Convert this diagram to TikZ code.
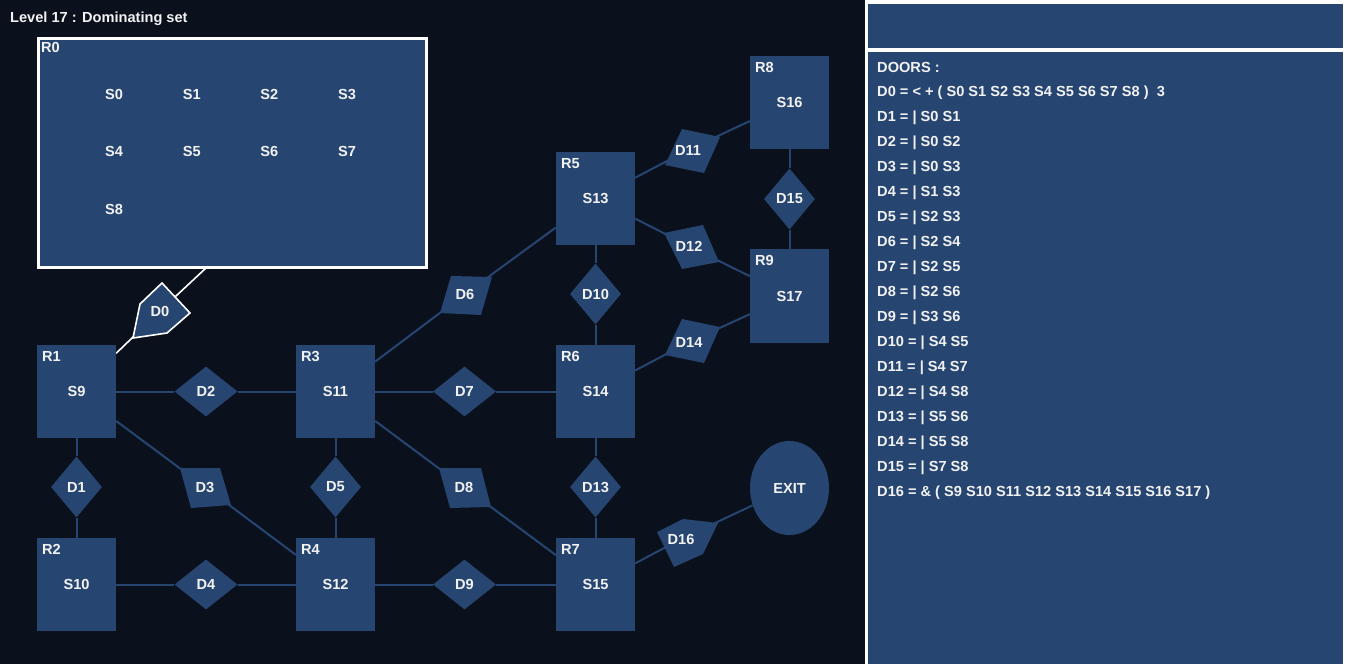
\documentclass[tikz,border=0pt]{standalone}
\usepackage{fontspec}
\setmainfont{Liberation Sans}
\usepackage{tikz}
\usetikzlibrary{calc}
\usetikzlibrary{shapes.geometric}
\definecolor{roomblue}{RGB}{38,69,112}
\definecolor{nightbg}{RGB}{11,17,28}
\definecolor{inkwhite}{RGB}{242,242,242}
\pgfdeclarelayer{back}
\pgfdeclarelayer{links}
\pgfsetlayers{back,links,main}
\tikzset{
  txt/.style={text=inkwhite, font=\fontsize{14.6}{17}\selectfont\bfseries, inner sep=0pt},
  room/.style={txt, rectangle, fill=roomblue, minimum width=79pt, minimum height=93pt},
  hdoor/.style={txt, diamond, fill=roomblue, minimum width=63pt, minimum height=50pt},
  vdoor/.style={txt, diamond, fill=roomblue, minimum width=51pt, minimum height=61pt},
  link/.style={draw=roomblue, line width=2pt},
  mainlink/.style={draw=white, line width=1.6pt}
}
\newcommand{\room}[5]{\node[room] (#1) at ( #2 , #3 ) {#5};
  \node[txt, anchor=north west] (#1tag) at ($(#1.north west)+(5,6)$) {#4};}
\newcommand{\door}[5]{\node[#5] (#1) at ( #2 , #3 ) {#4};}

\begin{document}
\begin{tikzpicture}[x=1pt, y=-1pt]
        \useasboundingbox (0,0) rectangle (1346,668);

        % panels
        \begin{pgfonlayer}{back}
        \fill[white] (0,0) rectangle (1346,668);
        \fill[nightbg] (0,0) rectangle (865,664);
        \fill[roomblue] (868,4) rectangle (1343,48.5);
        \fill[roomblue] (868,52) rectangle (1343,664);
        \end{pgfonlayer}

        \node[txt, anchor=base west] (title) at (10,22.5) {Level 17 : Dominating set};

        % room 0
        \node[fill=roomblue, draw=white, line width=3pt, minimum width=388pt, minimum height=229pt, inner sep=0pt] (r0) at (232.5,153) {};
        \node[txt, anchor=north west] (r0tag) at ($(r0.north west)+(4,5)$) {R0};
        \foreach \s [count=\i from 0] in {0,1,2,3,4,5,6,7,8} {
            \pgfmathtruncatemacro{\col}{mod(\i,4)}
            \pgfmathtruncatemacro{\row}{div(\i,4)}
            \node[txt] (s\s) at ({114+77.7*\col},{94+57.5*\row}) {S\s};
        }

        % rooms
        \room{r1}{76.5}{391.5}{R1}{S9}
        \room{r2}{76.5}{584.5}{R2}{S10}
        \room{r3}{335.5}{391.5}{R3}{S11}
        \room{r4}{335.5}{584.5}{R4}{S12}
        \room{r5}{595.5}{198.5}{R5}{S13}
        \room{r6}{595.5}{391.5}{R6}{S14}
        \room{r7}{595.5}{584.5}{R7}{S15}
        \room{r8}{789.5}{102.5}{R8}{S16}
        \room{r9}{789.5}{296}{R9}{S17}
        \node[txt, ellipse, fill=roomblue, minimum width=79pt, minimum height=94pt] (exit) at (789.5,488) {EXIT};

        % diamond doors
        \door{d1}{76.5}{487}{D1}{vdoor}
        \door{d2}{206}{391.5}{D2}{hdoor}
        \door{d4}{206}{584.5}{D4}{hdoor}
        \door{d5}{335.5}{487}{D5}{vdoor}
        \door{d7}{464.5}{391.5}{D7}{hdoor}
        \door{d9}{464.5}{584.5}{D9}{hdoor}
        \door{d10}{595.5}{294}{D10}{vdoor}
        \door{d13}{595.5}{487}{D13}{vdoor}
        \door{d15}{789.5}{199}{D15}{vdoor}

        % slanted doors
        \filldraw[fill=roomblue, draw=white, line width=1.6pt] (162,283) -- (190,313) -- (167,333) -- (133,338) -- (140,304) -- cycle;
        \node[txt] (d0) at (160,311) {D0};
        \fill[roomblue] (180,468) -- (220,468) -- (231,505) -- (191,508) -- cycle;
        \node[txt] (d3) at (205,487) {D3};
        \fill[roomblue] (451,276) -- (492,277) -- (481,315) -- (440,313) -- cycle;
        \node[txt] (d6) at (465,294) {D6};
        \fill[roomblue] (439,468) -- (481,468) -- (491,507) -- (450,508) -- cycle;
        \node[txt] (d8) at (464,487) {D8};
        \fill[roomblue] (682,129) -- (720,137) -- (704,173) -- (665,165) -- cycle;
        \node[txt] (d11) at (688,150) {D11};
        \fill[roomblue] (703,225) -- (719,262) -- (682,269) -- (664,233) -- cycle;
        \node[txt] (d12) at (689,246) {D12};
        \fill[roomblue] (682,319) -- (720,327) -- (704,363) -- (665,355) -- cycle;
        \node[txt] (d14) at (689,342) {D14};
        \fill[roomblue] (683,519) -- (718,523) -- (703,554) -- (674,567) -- (657,532) -- cycle;
        \node[txt] (d16) at (681,539) {D16};

        % connectors
        \coordinate (r0link) at (206,268);
        \begin{pgfonlayer}{links}
        \draw[mainlink] (r0link) -- (d0);
        \draw[mainlink] (d0) -- (r1);
        \foreach \a/\b in {r1/d1, d1/r2, r1/d2, d2/r3, r1/d3, d3/r4, r2/d4, d4/r4,
                           r3/d5, d5/r4, r3/d6, d6/r5, r3/d7, d7/r6, r3/d8, d8/r7,
                           r4/d9, d9/r7, r5/d10, d10/r6, r5/d11, d11/r8, r5/d12, d12/r9,
                           r6/d13, d13/r7, r6/d14, d14/r9, r8/d15, d15/r9, r7/d16, d16/exit}
            \draw[link] (\a) -- (\b);
        \end{pgfonlayer}

        % door list
        \node[txt, anchor=base west] (doors) at (877,72.5) {DOORS :};
        \foreach \t [count=\i from 0] in {
            {D0 = < + ( S0 S1 S2 S3 S4 S5 S6 S7 S8 )\ \ 3},
            {D1 = | S0 S1}, {D2 = | S0 S2}, {D3 = | S0 S3}, {D4 = | S1 S3},
            {D5 = | S2 S3}, {D6 = | S2 S4}, {D7 = | S2 S5}, {D8 = | S2 S6},
            {D9 = | S3 S6}, {D10 = | S4 S5}, {D11 = | S4 S7}, {D12 = | S4 S8},
            {D13 = | S5 S6}, {D14 = | S5 S8}, {D15 = | S7 S8},
            {D16 = \& ( S9 S10 S11 S12 S13 S14 S15 S16 S17 )}}
            \node[txt, anchor=base west] (line\i) at (877,{96.5+25*\i}) {\t};

    \end{tikzpicture}
\end{document}
